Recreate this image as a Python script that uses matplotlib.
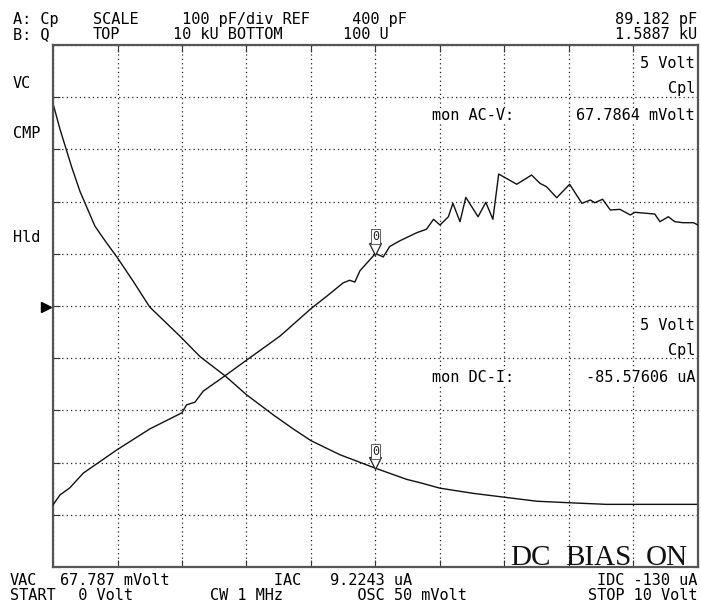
import matplotlib
matplotlib.use("Agg")
import matplotlib.pyplot as plt
from matplotlib.lines import Line2D
from matplotlib.transforms import offset_copy

# ---------------- data ----------------
# DC bias sweep (Volt)
cp_volt = [0, 0.11, 0.29, 0.42, 0.65, 0.83, 0.99, 1.24, 1.5, 1.97, 2.28, 2.67, 3.0,
           3.42, 3.73, 4.0, 4.45, 5.0, 5.48, 5.69, 6.0, 6.52, 7.01, 7.5, 8.02, 8.58,
           9.0, 9.5, 10]
cp_pf = [788, 738, 666, 619, 553, 521, 494, 448, 398, 342, 303, 266, 230,
         191, 164, 142, 115, 89.2, 68, 61.5, 51, 41, 33.5, 26, 23, 20,
         20, 20, 20]

q_volt = [0, 0.11, 0.26, 0.47, 0.99, 1.5, 2.0, 2.07, 2.2, 2.33, 2.67, 3.0, 3.52,
          4.0, 4.24, 4.5, 4.6, 4.68, 4.76, 5.0, 5.12, 5.22, 5.38, 5.64, 5.79,
          5.9, 6.0, 6.13, 6.2, 6.31, 6.40, 6.59, 6.71, 6.82, 6.91, 7.19, 7.42,
          7.55, 7.65, 7.81, 8.01, 8.2, 8.33, 8.4, 8.52, 8.64, 8.79, 8.95, 9.02,
          9.33, 9.41, 9.54, 9.64, 9.77, 9.93, 10]
q_val = [173, 189, 201, 229, 281, 338, 390, 418, 428, 472, 541, 620, 767,
         977, 1088, 1227, 1255, 1235, 1366, 1589, 1542, 1690, 1779, 1909, 1968,
         2149, 2043, 2198, 2474, 2104, 2608, 2198, 2496, 2149, 3204, 2927, 3176,
         2951, 2866, 2600, 2927, 2474, 2547, 2487, 2564, 2333, 2346, 2232, 2286,
         2251, 2104, 2198, 2104, 2085, 2085, 2043]

marker_volt = 5.0
marker_cp = 89.182
marker_q = 1588.7

x_ticks = list(range(0, 11))
cp_ticks = list(range(-100, 901, 100))

# header / footer text blocks: (column, two-line text)
header_blocks = [(0, "A: Cp\nB: Q"), (8, "SCALE\nTOP"),
                 (16, " 100 pF/div REF\n10 kU BOTTOM"), (33, " 400 pF\n100 U")]
header_right = "89.182 pF\n1.5887 kU"
footer_blocks = [(0, "VAC\nSTART"), (5, "67.787 mVolt\n  0 Volt"),
                 (20, "       IAC\nCW 1 MHz"), (32, "9.2243 uA\n   OSC 50 mVolt")]
footer_right = "IDC -130 uA\nSTOP 10 Volt"
left_labels = [("VC", 83), ("CMP", 134), ("Hld", 237)]

# ---------------- figure ----------------
W, H = 701, 603
fig = plt.figure(figsize=(W / 100, H / 100), dpi=100)
fig.patch.set_facecolor("white")

def fx(x):
    return x / W

def fy(y):
    return 1 - y / H

L, T, R, B = 53, 45, 698, 567
ax = fig.add_axes([fx(L), fy(B), (R - L) / W, (B - T) / H])
ax.set_xlim(0, 10)
ax.set_ylim(-100, 900)
ax.set_xticks(x_ticks)
ax.set_yticks(cp_ticks)
ax.set_xticklabels([])
ax.set_yticklabels([])
ax.tick_params(direction="in", length=5, width=0.8, top=True, right=True,
               bottom=True, left=True, color="#333333")
ax.grid(True, color="#222222", linestyle=(0, (1, 2.5)), linewidth=0.9)
for s in ax.spines.values():
    s.set_color("#555555")
    s.set_linewidth(1.6)

ax2 = ax.twinx()
ax2.set_yscale("log")
ax2.set_ylim(100, 10000)
ax2.set_yticks([])
ax2.minorticks_off()
ax2.tick_params(which="both", right=False, left=False, labelright=False)
for s in ax2.spines.values():
    s.set_visible(False)

ax.plot(cp_volt, cp_pf, color="#111111", linewidth=1.0)
ax2.plot(q_volt, q_val, color="#111111", linewidth=1.0)

mono = "DejaVu Sans Mono"

# markers
for a, val in ((ax, marker_cp), (ax2, marker_q)):
    tr = offset_copy(a.transData, fig=fig, x=0, y=5, units="dots")
    a.plot([marker_volt], [val], marker="v", markersize=9, markerfacecolor="white",
           markeredgecolor="#222222", markeredgewidth=0.9, transform=tr,
           clip_on=False, zorder=5)
    tr2 = offset_copy(a.transData, fig=fig, x=0, y=17, units="dots")
    a.text(marker_volt, val, "0", transform=tr2, ha="center", va="center",
           fontsize=8.5, family=mono, color="#222222", zorder=6,
           bbox=dict(boxstyle="square,pad=0.1", facecolor="white",
                     edgecolor="#444444", linewidth=0.6))

fs = 11
pitch = 10.0
for col, txt in header_blocks:
    fig.text(fx(13 + col * pitch), fy(12), txt, family=mono, fontsize=fs,
             ha="left", va="top", linespacing=1.0)
fig.text(fx(697), fy(12), header_right, family=mono, fontsize=fs, ha="right",
         va="top", multialignment="right", linespacing=1.0)

for col, txt in footer_blocks:
    fig.text(fx(10 + col * pitch), fy(573), txt, family=mono, fontsize=fs,
             ha="left", va="top", linespacing=1.0)
fig.text(fx(697), fy(573), footer_right, family=mono, fontsize=fs, ha="right",
         va="top", multialignment="right", linespacing=1.0)

for txt, y in left_labels:
    fig.text(fx(13), fy(y), txt, family=mono, fontsize=fs, ha="left", va="center")

# reference arrow
fig.add_artist(Line2D([fx(46)], [fy(307)], marker=">", markersize=7, color="black",
                      linestyle="none", transform=fig.transFigure))

# right-side annotations
def rtext(x, y, txt, ha):
    fig.text(fx(x), fy(y), txt, family=mono, fontsize=fs, ha=ha, va="center",
             bbox=dict(boxstyle="square,pad=0.05", facecolor="white", edgecolor="none"))

rtext(695, 63, "5 Volt", "right")
rtext(695, 88, "Cpl", "right")
rtext(432, 116, "mon AC-V:", "left")
rtext(695, 116, "67.7864 mVolt", "right")
rtext(695, 325, "5 Volt", "right")
rtext(695, 350, "Cpl", "right")
rtext(432, 378, "mon DC-I:", "left")
rtext(695, 378, "-85.57606 uA", "right")

for txt, x in (("DC", 510), ("BIAS", 565), ("ON", 646)):
    fig.text(fx(x), fy(565), txt, family="Liberation Serif", fontsize=21,
             ha="left", va="baseline", color="#111111")

fig.savefig("out.png", dpi=100, facecolor="white")
